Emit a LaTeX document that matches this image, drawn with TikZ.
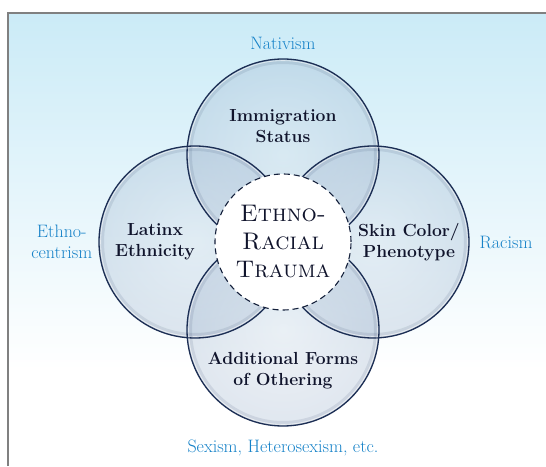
\documentclass[tikz,border=0pt]{standalone}
\usetikzlibrary{calc}
\usetikzlibrary{shapes}

\definecolor{bgtop}{RGB}{203,235,247}
\definecolor{ringblue}{RGB}{158,180,206}
\definecolor{ringedge}{RGB}{28,46,84}
\definecolor{labelblue}{RGB}{22,130,200}
\definecolor{labelink}{RGB}{16,20,44}

\begin{document}
\begin{tikzpicture}[%
  ring/.style={circle,
               minimum size=192pt,
               inner color=ringblue!55!white,
               outer color=ringblue,
               fill opacity=0.32
  },
  rim/.style={draw=ringedge, line width=1.3pt},
  core/.style={circle,
               minimum size=136pt,
               fill=white,
               draw=ringedge!70!black,
               dash pattern=on 6pt off 4pt,
               line width=1.1pt,
               align=center,
               text=labelink,
               font=\fontsize{24}{28}\selectfont
  },
  ringlabel/.style={align=center, text=labelink,
                    font=\fontsize{17.5}{21}\selectfont\bfseries},
  outerlabel/.style={align=center, text=labelblue,
                     font=\fontsize{18}{21}\selectfont}
]
\useasboundingbox (0pt,0pt) rectangle (546pt,466pt);
\shade [top color=bgtop, bottom color=white]
   (8pt,96pt) rectangle (546pt,453pt);
\draw [gray, line width=1.2pt] (8pt,0pt) -- (8pt,453pt) -- (546pt,453pt);

\coordinate (mid) at (283pt,224pt);

\node [ring] (immig)  at ($(mid) + (up:87pt)$) {};
\node [ring] (latinx) at ($(mid) + (left:88pt)$) {};
\node [ring] (skin)   at ($(mid) + (right:90pt)$) {};
\node [ring] (other)  at ($(mid) + (down:88pt)$) {};

\foreach \r in {immig,latinx,skin,other} {
  \draw [ringedge, line width=5pt, opacity=0.10] (\r.center) circle (93.5pt);
  \draw [white, line width=0.8pt, opacity=0.6] (\r.center) circle (94.4pt);
  \draw [rim] (\r.center) circle (96pt);
}

\node [core] (trauma) at (mid) {
   \textsc{Ethno-}\\
   \textsc{Racial}\\
   \textsc{Trauma}
   };

\node [ringlabel] (immigtext) at ($(immig.center) + (up:29pt)$) {
   Immigration\\ Status
   };
\node [ringlabel] (latinxtext) at ($(latinx.center) + (left:40pt)$) {
   Latinx\\ Ethnicity
   };
\node [ringlabel] (skintext) at ($(skin.center) + (right:36pt)$) {
   Skin Color/\\ Phenotype
   };
\node [ringlabel] (othertext) at ($(other.center) + (down:41pt)$) {
   Additional Forms\\ of Othering
   };

\node [outerlabel, above=6pt] (nativism) at (immig.north) {Nativism};
\node [outerlabel, left=3pt] (ethno) at (latinx.west) {Ethno-\\ centrism};
\node [outerlabel, right=7pt] (racism) at (skin.east) {Racism};
\node [outerlabel, below=10pt] (sexism) at (other.south) {Sexism, Heterosexism, etc.};

\end{tikzpicture}
\end{document}
